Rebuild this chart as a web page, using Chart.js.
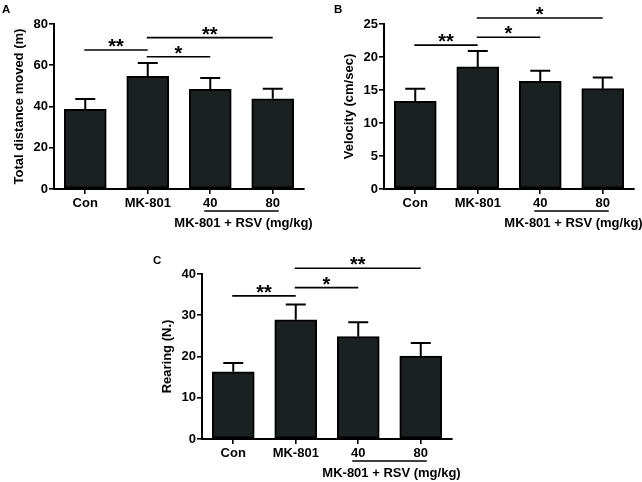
<!DOCTYPE html>
<html><head><meta charset="utf-8">
<script src="https://cdn.jsdelivr.net/npm/chart.js@4/dist/chart.umd.min.js"></script>
<style>
html,body{margin:0;padding:0;background:#fff;}
body{width:642px;height:482px;position:relative;overflow:hidden;font-family:"Liberation Sans",Arial,sans-serif;}
.box{position:absolute;}
.lab{position:absolute;font-weight:bold;font-size:11.5px;color:#000;line-height:1;}
canvas{display:block;}
</style></head><body>
<div class="box" style="left:0;top:0;"><canvas id="ca" width="320" height="240" style="width:320px;height:240px"></canvas></div>
<div class="box" style="left:330px;top:0;"><canvas id="cb" width="312" height="240" style="width:312px;height:240px"></canvas></div>
<div class="box" style="left:148px;top:250px;"><canvas id="cc" width="320" height="232" style="width:320px;height:232px"></canvas></div>
<div class="lab" style="left:2px;top:4px;">A</div>
<div class="lab" style="left:334px;top:4px;">B</div>
<div class="lab" style="left:153px;top:255px;">C</div>
<script>
// ---- data ----
const categories = ['Con', 'MK-801', '40', '80'];
const groupLabel = 'MK-801 + RSV (mg/kg)';

const distanceMean = [38.6, 54.6, 48.3, 43.7];
const distanceSEM  = [5.0, 6.5, 5.5, 4.9];
const distanceTicks = [0, 20, 40, 60, 80];
const distanceTitle = 'Total distance moved (m)';
const distanceSigFrom  = [0, 1, 1];
const distanceSigTo    = [1, 2, 3];
const distanceSigLevel = [67.4, 64.1, 73.4];
const distanceSigMark  = ['**', '*', '**'];

const velocityMean = [13.3, 18.5, 16.3, 15.2];
const velocitySEM  = [1.9, 2.4, 1.6, 1.7];
const velocityTicks = [0, 5, 10, 15, 20, 25];
const velocityTitle = 'Velocity (cm/sec)';
const velocitySigFrom  = [0, 1, 1];
const velocitySigTo    = [1, 2, 3];
const velocitySigLevel = [21.8, 23.0, 25.9];
const velocitySigMark  = ['**', '*', '*'];

const rearingMean = [16.3, 28.9, 24.8, 20.1];
const rearingSEM  = [2.1, 3.7, 3.5, 3.2];
const rearingTicks = [0, 10, 20, 30, 40];
const rearingTitle = 'Rearing (N.)';
const rearingSigFrom  = [0, 1, 1];
const rearingSigTo    = [1, 2, 3];
const rearingSigLevel = [34.7, 36.7, 41.4];
const rearingSigMark  = ['**', '*', '**'];

// ---- drawing ----
const FONT = '"Liberation Sans", Arial, sans-serif';
Chart.defaults.font.family = FONT;
Chart.defaults.color = '#000';

function makeChart(id, W, H, means, sems, ticks, title, sFrom, sTo, sLevel, sMark) {
  const AREA_LEFT = 54, AREA_TOP = 24, AREA_BOTTOM = 189, AREA_RIGHT = 304;
  const extras = {
    id: 'extras',
    afterDatasetsDraw(chart) {
      const ctx = chart.ctx;
      const xs = chart.scales.x, ys = chart.scales.y;
      const meta = chart.getDatasetMeta(0);
      ctx.save();
      ctx.strokeStyle = '#000';
      ctx.lineCap = 'butt';
      // error bars (upper)
      ctx.lineWidth = 2;
      meta.data.forEach((bar, i) => {
        const x = bar.x;
        const yTop = ys.getPixelForValue(means[i]);
        const yErr = ys.getPixelForValue(means[i] + sems[i]);
        ctx.beginPath();
        ctx.moveTo(x, yTop); ctx.lineTo(x, yErr);
        ctx.moveTo(x - 10, yErr); ctx.lineTo(x + 10, yErr);
        ctx.stroke();
      });
      // significance brackets
      ctx.lineWidth = 1.6;
      ctx.fillStyle = '#000';
      ctx.font = 'bold 20px ' + FONT;
      ctx.textAlign = 'center';
      ctx.textBaseline = 'alphabetic';
      for (let k = 0; k < sFrom.length; k++) {
        const x1 = xs.getPixelForValue(sFrom[k]) - 1;
        const x2 = xs.getPixelForValue(sTo[k]);
        const y = ys.getPixelForValue(sLevel[k]);
        ctx.beginPath();
        ctx.moveTo(x1, y); ctx.lineTo(x2, y);
        ctx.stroke();
        ctx.fillText(sMark[k], (x1 + x2) / 2, y + 3);
      }
      // group label under the dose categories
      const g1 = xs.getPixelForValue(2), g2 = xs.getPixelForValue(3);
      const gy = chart.chartArea.bottom + 22;
      ctx.lineWidth = 1.6;
      ctx.beginPath();
      ctx.moveTo(g1 - 6, gy); ctx.lineTo(g2 + 6, gy);
      ctx.stroke();
      ctx.font = 'bold 13px ' + FONT;
      ctx.textBaseline = 'middle';
      ctx.fillText(groupLabel, (g1 + g2) / 2 + 2, chart.chartArea.bottom + 34);
      ctx.restore();
    }
  };
  return new Chart(document.getElementById(id), {
    type: 'bar',
    data: {
      labels: categories,
      datasets: [{
        data: means,
        backgroundColor: '#1b2121',
        borderColor: '#000',
        borderWidth: 2,
        borderSkipped: false,
        barThickness: 42
      }]
    },
    options: {
      responsive: false,
      animation: false,
      events: [],
      layout: { padding: { top: AREA_TOP, right: W - AREA_RIGHT, left: 0, bottom: 0 } },
      plugins: { legend: { display: false }, tooltip: { enabled: false } },
      scales: {
        x: {
          type: 'category',
          offset: true,
          grid: { display: true, drawOnChartArea: false, drawTicks: true, tickLength: 5, color: '#000', lineWidth: 1.6, offset: false },
          border: { display: true, color: '#000', width: 2 },
          ticks: { font: { size: 13, weight: 'bold' }, padding: 2, color: '#000', maxRotation: 0, autoSkip: false },
          afterFit(axis) { axis.height = H - AREA_BOTTOM; }
        },
        y: {
          min: ticks[0],
          max: ticks[ticks.length - 1],
          afterBuildTicks(axis) { axis.ticks = ticks.map(v => ({ value: v })); },
          grid: { display: true, drawOnChartArea: false, drawTicks: true, tickLength: 5, color: '#000', lineWidth: 1.6 },
          border: { display: true, color: '#000', width: 2 },
          ticks: { font: { size: 13, weight: 'bold' }, padding: 1, color: '#000' },
          title: { display: true, text: title, font: { size: 13, weight: 'bold' }, padding: { top: 12, bottom: 0 }, color: '#000' },
          afterFit(axis) { axis.width = AREA_LEFT; }
        }
      }
    },
    plugins: [extras]
  });
}

makeChart('ca', 320, 240, distanceMean, distanceSEM, distanceTicks, distanceTitle,
  distanceSigFrom, distanceSigTo, distanceSigLevel, distanceSigMark);
makeChart('cb', 312, 240, velocityMean, velocitySEM, velocityTicks, velocityTitle,
  velocitySigFrom, velocitySigTo, velocitySigLevel, velocitySigMark);
makeChart('cc', 320, 232, rearingMean, rearingSEM, rearingTicks, rearingTitle,
  rearingSigFrom, rearingSigTo, rearingSigLevel, rearingSigMark);
</script>
</body></html>
